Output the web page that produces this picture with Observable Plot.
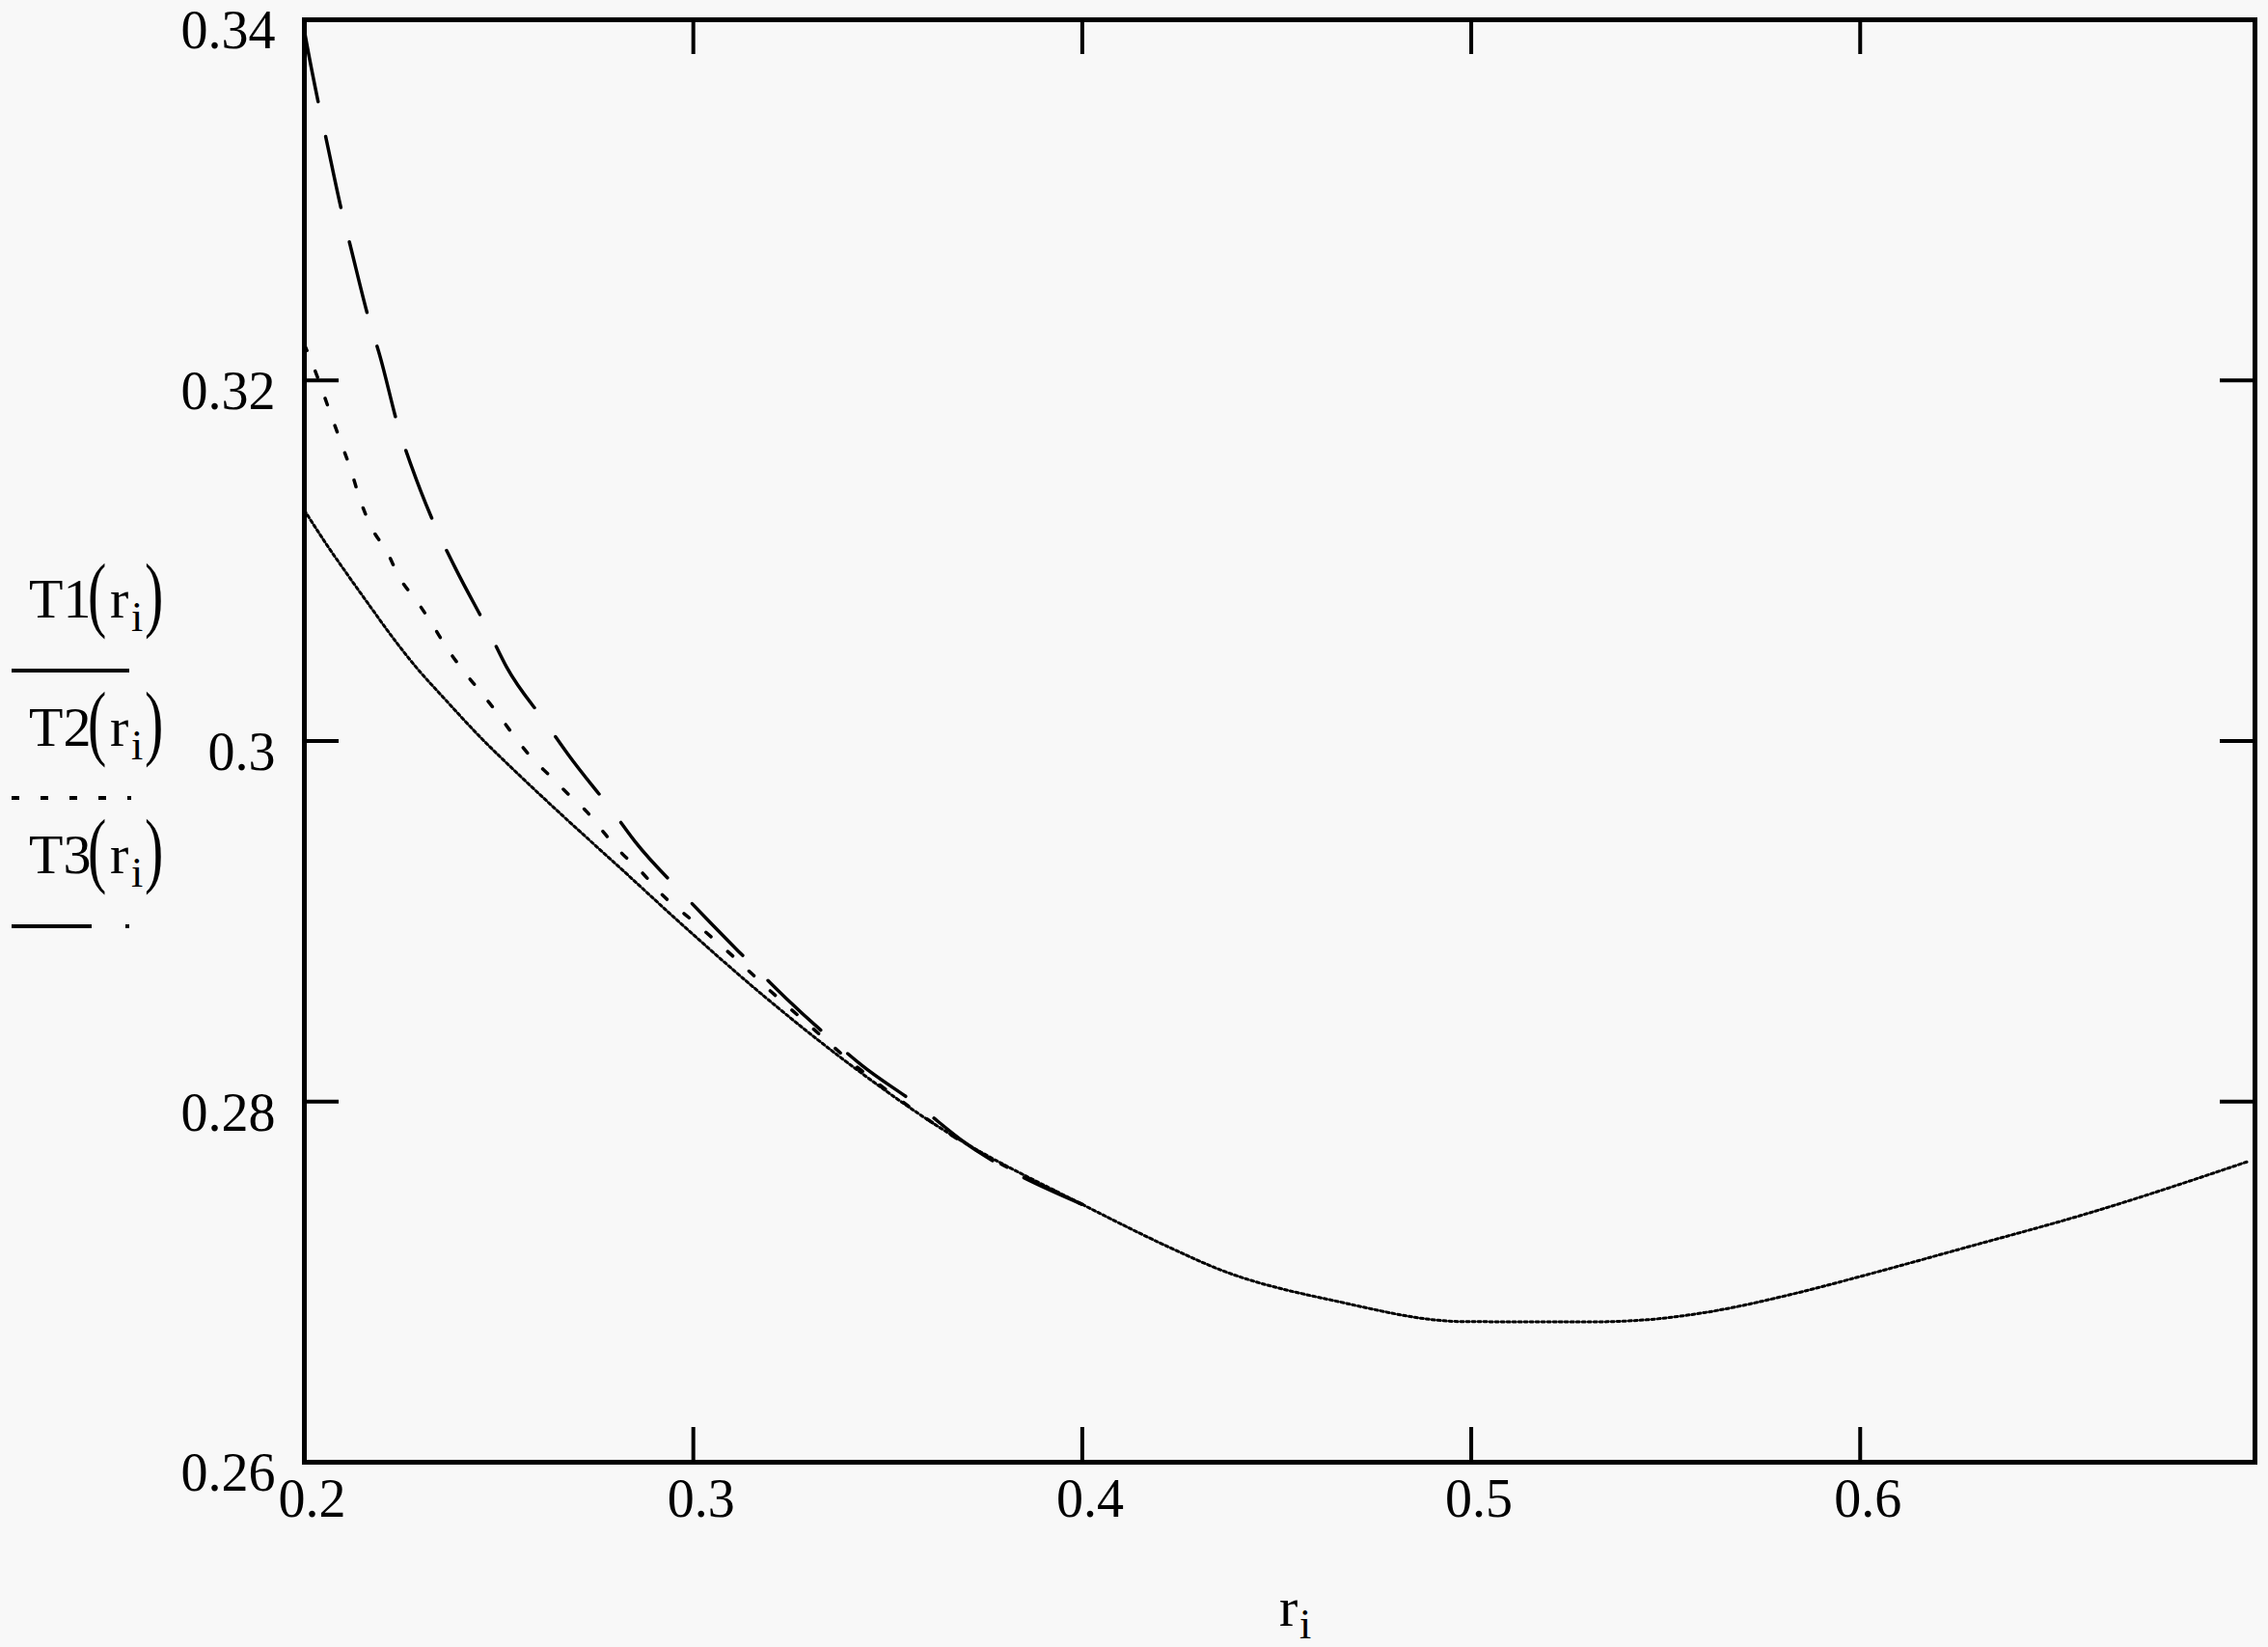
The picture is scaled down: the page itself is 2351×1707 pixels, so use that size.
<!DOCTYPE html>
<html>
<head>
<meta charset="utf-8">
<script src="https://cdn.jsdelivr.net/npm/d3@7"></script>
<script src="https://cdn.jsdelivr.net/npm/@observablehq/plot@0.6"></script>
<style>
  html, body { margin: 0; padding: 0; background: #f8f8f8; }
  #chart svg { display: block; }
</style>
</head>
<body>
<div id="chart"></div>
<script>
// ---- data ----
const r1 = [0.200, 0.2054, 0.2102, 0.2168, 0.2225, 0.2291, 0.2358, 0.2453, 0.2548, 0.2662, 0.2815, 0.2972, 0.3179, 0.3394, 0.3638, 0.4000, 0.4266, 0.4340, 0.4660, 0.4980, 0.5300, 0.5450, 0.5600, 0.5840, 0.6000, 0.6270, 0.6585, 0.7000];
const T1 = [0.3128, 0.3110, 0.3095, 0.3075, 0.3058, 0.3040, 0.3024, 0.3002, 0.2982, 0.2959, 0.2929, 0.2898, 0.2859, 0.2822, 0.2785, 0.2743, 0.2715, 0.2708, 0.2689, 0.2678, 0.26778, 0.2679, 0.2683, 0.2694, 0.2703, 0.2719, 0.2738, 0.2767];

const r2 = [0.200, 0.203, 0.206, 0.209, 0.212, 0.2143, 0.2169, 0.2217, 0.2241, 0.2291, 0.2328, 0.2365, 0.2405, 0.2450, 0.2498, 0.2535, 0.2583, 0.2630, 0.2681, 0.2725, 0.2767, 0.2815, 0.2864, 0.2914, 0.3000, 0.3100, 0.3200, 0.3300, 0.3400, 0.3638, 0.4000];
const T2 = [0.3220, 0.3204, 0.3186, 0.3168, 0.3150, 0.3134, 0.3120, 0.3103, 0.3092, 0.3077, 0.3065, 0.3052, 0.3040, 0.3028, 0.3015, 0.3004, 0.2991, 0.2981, 0.2970, 0.2961, 0.2950, 0.2938, 0.2928, 0.2916, 0.2900, 0.2881, 0.2861, 0.2842, 0.2823, 0.2785, 0.2743];

const r3 = [0.2000, 0.2005, 0.2035, 0.2056, 0.2097, 0.2119, 0.2167, 0.2195, 0.2243, 0.2276, 0.2343, 0.2388, 0.2476, 0.2520, 0.2621, 0.2680, 0.2796, 0.2851, 0.2974, 0.3045, 0.3169, 0.3240, 0.3368, 0.3434, 0.3571, 0.3700, 0.4000];
const T3 = [0.3394, 0.3388, 0.3355, 0.3334, 0.3293, 0.3274, 0.3233, 0.3213, 0.3173, 0.3152, 0.3116, 0.3096, 0.3060, 0.3041, 0.3010, 0.2992, 0.2960, 0.2944, 0.2915, 0.2899, 0.2872, 0.2857, 0.2832, 0.2820, 0.2799, 0.2777, 0.2743];

const xTicks = [0.2, 0.3, 0.4, 0.5, 0.6];
const xTickLabels = ["0.2", "0.3", "0.4", "0.5", "0.6"];
const yTicks = [0.26, 0.28, 0.30, 0.32, 0.34];
const yTickLabels = ["0.26", "0.28", "0.3", "0.32", "0.34"];
const xInnerTicks = [0.3, 0.4, 0.5, 0.6];
const yInnerTicks = [0.28, 0.30, 0.32];

// ---- build tables ----
const s1 = r1.map((r, i) => ({r, T: T1[i]}));
const s2 = r2.map((r, i) => ({r, T: T2[i]}));
const s3 = r3.map((r, i) => ({r, T: T3[i]}));

const W = 2351, H = 1707;
const mL = 315, mR = 14, mT = 20, mB = 192;
const innerW = W - mL - mR, innerH = H - mT - mB;
const tickLen = 36;
const font = "'Liberation Serif', 'Times New Roman', serif";

const chart = Plot.plot({
  width: W, height: H,
  marginLeft: mL, marginRight: mR, marginTop: mT, marginBottom: mB,
  style: {background: "transparent", fontFamily: font, color: "#000"},
  x: {domain: [0.2, 0.7015], axis: null},
  y: {domain: [0.26, 0.34], axis: null},
  marks: [
    Plot.line(s1, {x: "r", y: "T", stroke: "#000", strokeWidth: 3, strokeDasharray: "3,3", curve: "monotone-x"}),
    Plot.line(s2, {x: "r", y: "T", stroke: "#000", strokeWidth: 3.5, strokeDasharray: "7,23", curve: "monotone-x"}),
    Plot.line(s3, {x: "r", y: "T", stroke: "#000", strokeWidth: 3.5, strokeDasharray: "75,37", curve: "monotone-x"}),
    Plot.ruleX(xInnerTicks, {x: d => d, insetTop: innerH - tickLen, strokeWidth: 4}),
    Plot.ruleX(xInnerTicks, {x: d => d, insetBottom: innerH - tickLen, strokeWidth: 4}),
    Plot.ruleY(yInnerTicks, {y: d => d, insetRight: innerW - tickLen, strokeWidth: 4}),
    Plot.ruleY(yInnerTicks, {y: d => d, insetLeft: innerW - tickLen, strokeWidth: 4}),
    Plot.frame({stroke: "#000", strokeWidth: 5}),
    Plot.text(xTicks, {x: d => d, frameAnchor: "bottom", dy: 56, dx: 8, text: (d, i) => xTickLabels[i], fontSize: 56, fontFamily: font, fill: "#000"}),
    Plot.text(yTicks, {y: d => d, frameAnchor: "left", dx: -30, dy: 12, textAnchor: "end", text: (d, i) => yTickLabels[i], fontSize: 56, fontFamily: font, fill: "#000"})
  ]
});

document.getElementById("chart").appendChild(chart);

// ---- y-axis label (Mathcad trace names with line styles) and x title ----
const svg = d3.select(chart);
const g = svg.append("g").attr("font-family", font).attr("fill", "#000").attr("text-anchor", "start");

function traceLabel(name, baseline) {
  g.append("text").attr("x", 30).attr("y", baseline).attr("font-size", 58).text(name);
  g.append("text").attr("transform", `translate(91,${baseline + 4}) scale(1,1.5)`).attr("font-size", 58).text("(");
  g.append("text").attr("x", 114).attr("y", baseline).attr("font-size", 58).text("r");
  g.append("text").attr("x", 136).attr("y", baseline + 14).attr("font-size", 44).text("i");
  g.append("text").attr("transform", `translate(150,${baseline + 4}) scale(1,1.5)`).attr("font-size", 58).text(")");
}
traceLabel("T1", 640);
traceLabel("T2", 773);
traceLabel("T3", 905);

const lg = svg.append("g").attr("stroke", "#000").attr("stroke-width", 4);
lg.append("line").attr("x1", 12).attr("x2", 134).attr("y1", 695).attr("y2", 695);
lg.append("line").attr("x1", 12).attr("x2", 136).attr("y1", 827).attr("y2", 827).attr("stroke-dasharray", "8,22");
lg.append("line").attr("x1", 12).attr("x2", 95).attr("y1", 960).attr("y2", 960);
lg.append("line").attr("x1", 130).attr("x2", 134).attr("y1", 960).attr("y2", 960);

const xt = svg.append("g").attr("font-family", font).attr("fill", "#000").attr("text-anchor", "start");
xt.append("text").attr("x", 1326).attr("y", 1685).attr("font-size", 58).text("r");
xt.append("text").attr("x", 1347).attr("y", 1698).attr("font-size", 44).text("i");
</script>
</body>
</html>
